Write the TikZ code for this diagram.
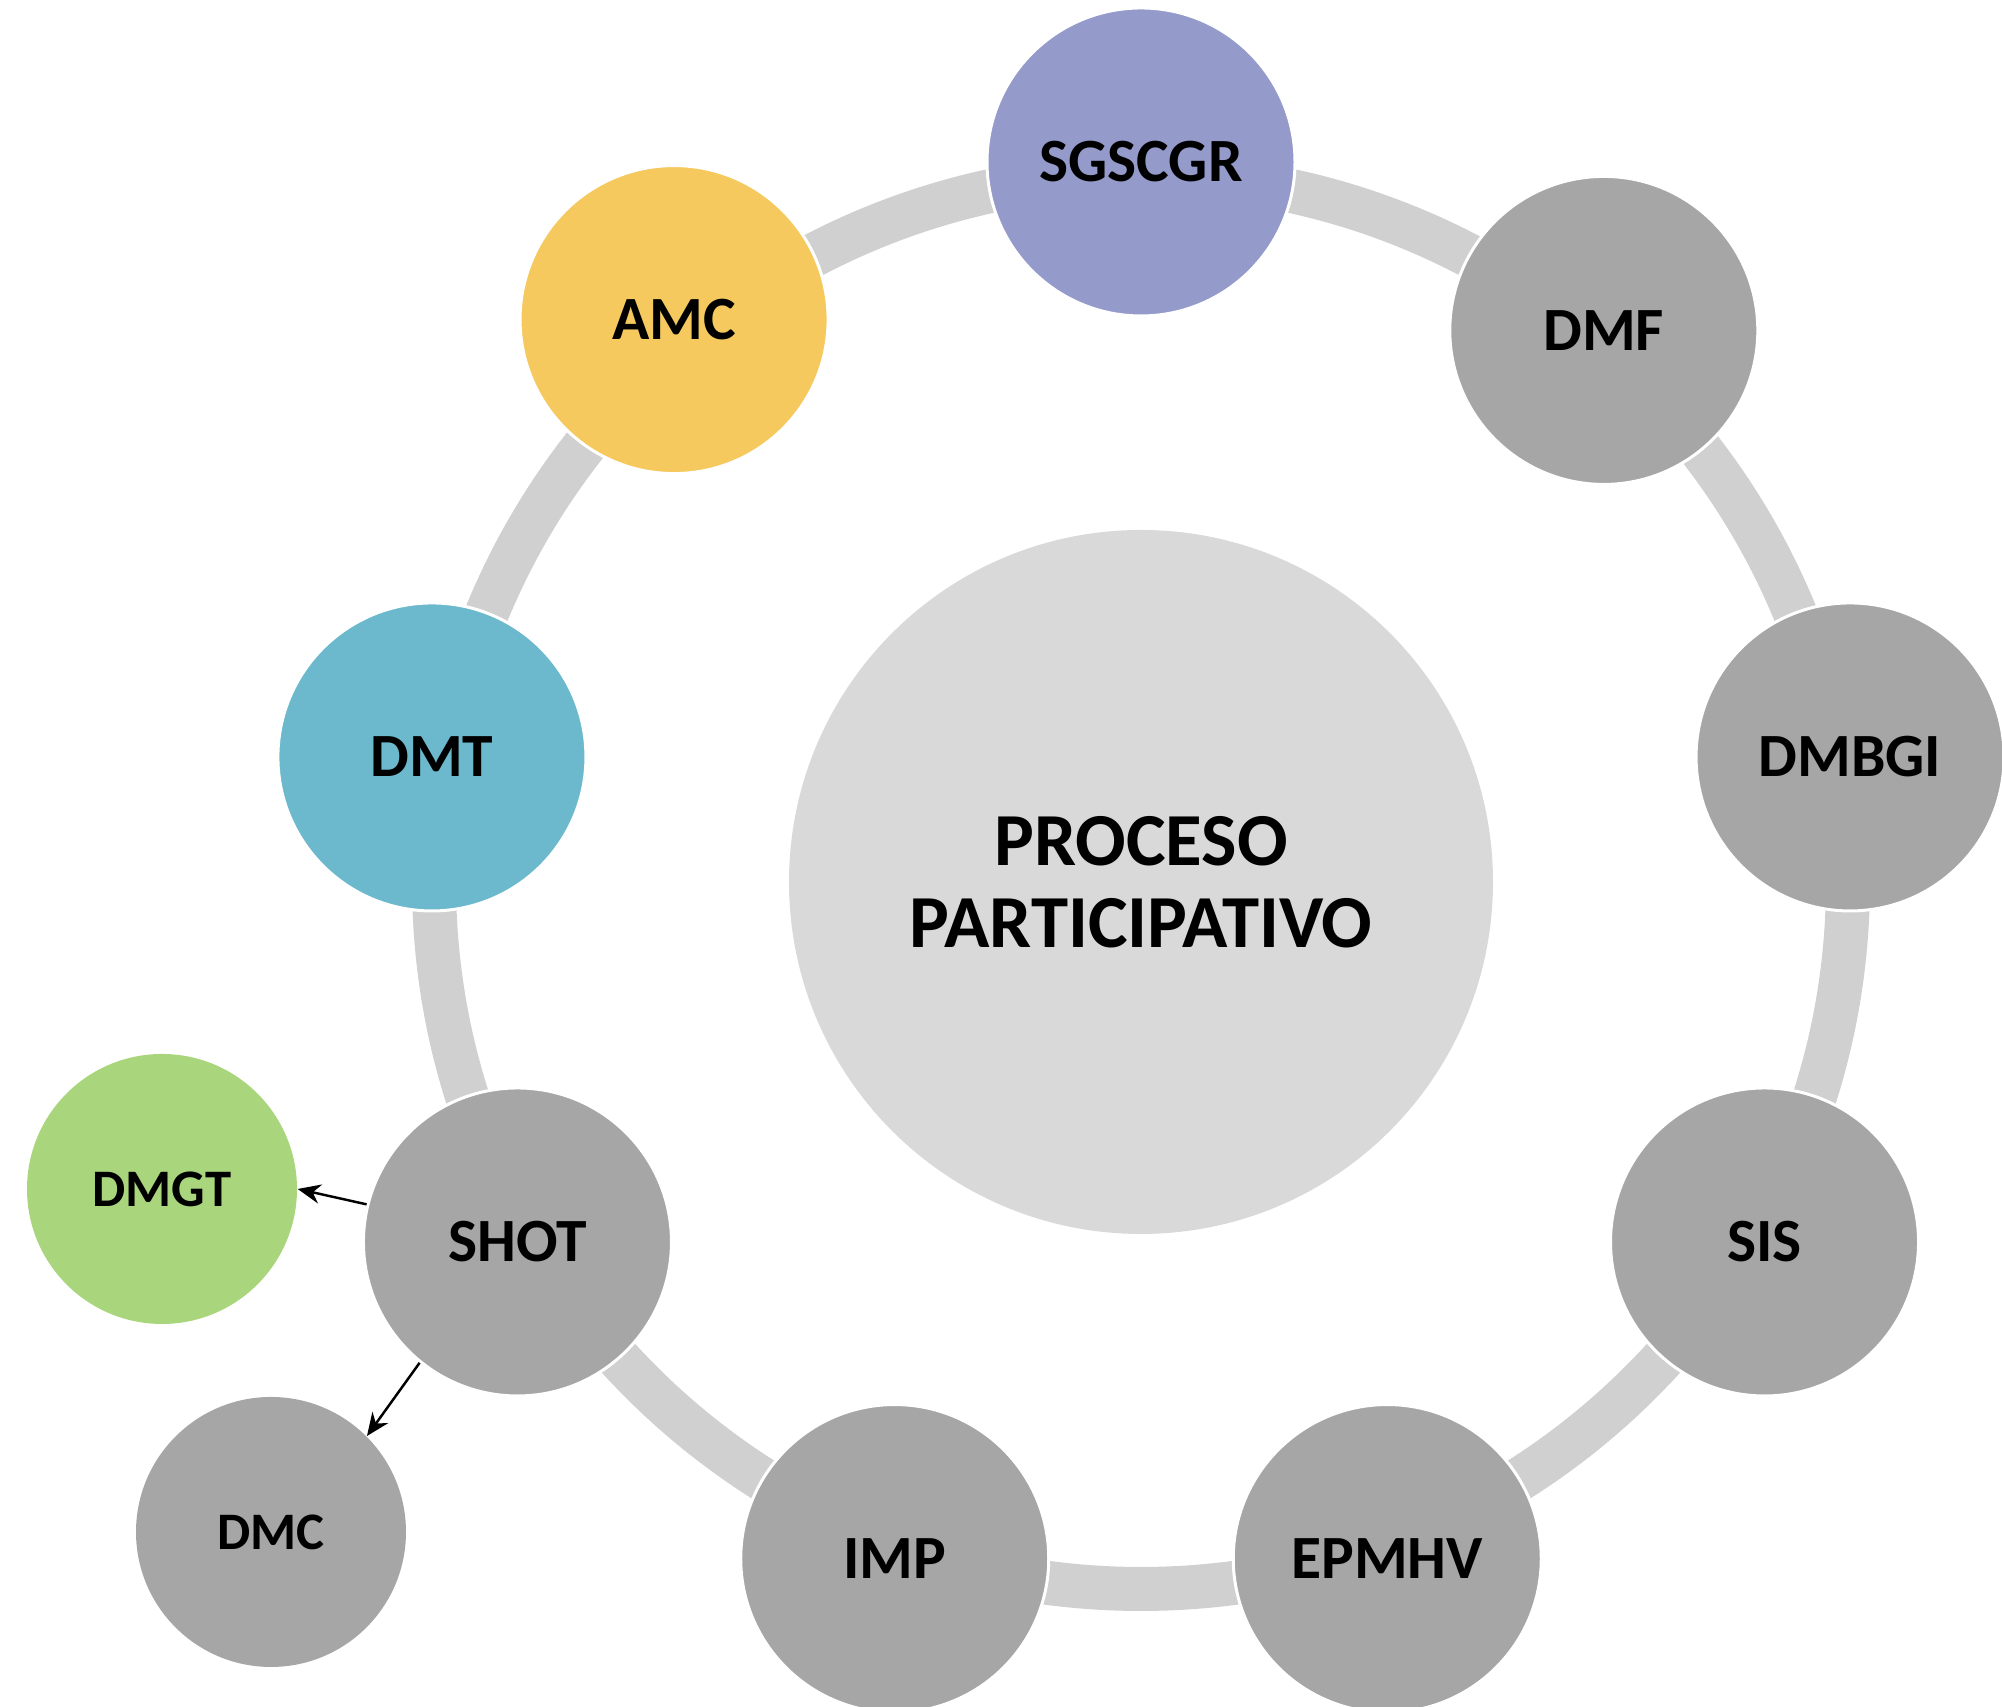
\documentclass[tikz,border=0pt]{standalone}
\usepackage{fontspec}
\setmainfont{Carlito}
\usepackage{tikz}
\usetikzlibrary{positioning, arrows.meta}
\definecolor{ringcol}{HTML}{D0D0D0}
\definecolor{hubcol}{HTML}{D9D9D9}
\definecolor{greycol}{HTML}{A6A6A6}
\definecolor{sgscol}{HTML}{949BCB}
\definecolor{amccol}{HTML}{F5C95E}
\definecolor{dmtcol}{HTML}{6CB9CE}
\definecolor{dmgtcol}{HTML}{A9D57D}

\begin{document}
\begin{tikzpicture}[
    ringnode/.style={circle, draw=white, line width=0.85pt, minimum size=3.08cm,
                     inner sep=0pt, font=\fontsize{17.5}{21}\selectfont\bfseries},
    sidenode/.style={circle, fill=#1, minimum size=2.7cm, inner sep=0pt,
                     font=\fontsize{15}{18}\selectfont\bfseries},
    link/.style={-{Stealth[length=6.5pt, width=5.5pt]}, line width=0.7pt}
  ]
    \useasboundingbox (0,0) rectangle (20.02,17.07);
    \node[circle, fill=hubcol, minimum size=7.04cm, align=center,
          font=\fontsize{21.3}{23.3}\selectfont\bfseries] (hub) at (11.41,8.25)
          {PROCESO\\PARTICIPATIVO};
    % ring behind the steps
    \draw[ringcol, line width=0.44cm] (hub.center) circle[radius=7.07];
    \begin{scope}[shift={(hub.center)}]
      \foreach \ang/\rad/\lbl/\col in {90/7.2/SGSCGR/sgscol, 50/7.2/DMF/greycol,
                                       10/7.2/DMBGI/greycol, -30/7.2/SIS/greycol,
                                       -70/7.2/EPMHV/greycol, -110/7.2/IMP/greycol,
                                       -150/7.2/SHOT/greycol, 170/7.2/DMT/dmtcol,
                                       129.7/7.31/AMC/amccol}
        \node[ringnode, fill=\col] (\lbl) at (\ang:\rad) {\lbl};
    \end{scope}
    \node[sidenode=dmgtcol] (DMGT) at (1.62,5.18) {DMGT};
    \node[sidenode=greycol] (DMC) at (2.71,1.75) {DMC};
    \draw[link] (SHOT.166) -- (DMGT.0);
    \draw[link] (SHOT.231) -- (DMC.45);
\end{tikzpicture}
\end{document}
